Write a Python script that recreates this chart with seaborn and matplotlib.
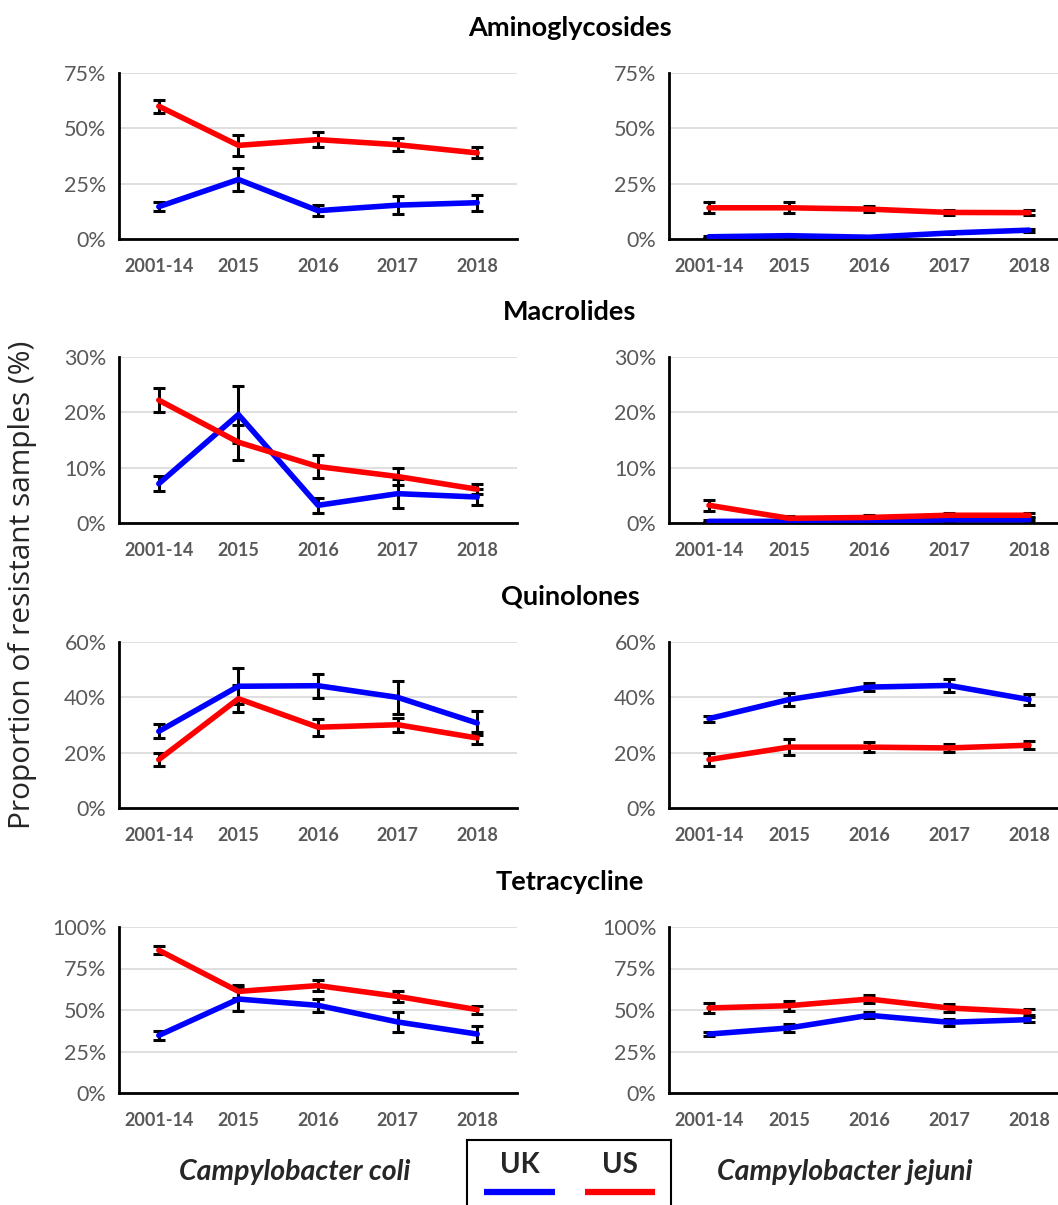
import numpy as np
import pandas as pd
import matplotlib
matplotlib.use("Agg")
import matplotlib.pyplot as plt
import seaborn as sns

sns.set_style("white")
plt.rcParams['font.family'] = ['Lato', 'DejaVu Sans']

years = ["2001-14", "2015", "2016", "2017", "2018"]

# Aminoglycosides
amino_coli_uk = [14.6, 26.9, 12.8, 15.3, 16.4]
amino_coli_uk_err = [2.1, 5.3, 2.5, 4.2, 3.6]
amino_coli_us = [60.0, 42.3, 44.9, 42.6, 38.9]
amino_coli_us_err = [3.0, 4.8, 3.4, 3.0, 2.5]
amino_jej_uk = [1.0, 1.5, 0.8, 2.7, 4.0]
amino_jej_uk_err = [0.4, 0.5, 0.3, 0.6, 0.7]
amino_jej_us = [14.1, 14.1, 13.5, 12.0, 11.9]
amino_jej_us_err = [2.4, 2.4, 1.5, 1.0, 1.2]

# Macrolides
macro_coli_uk = [7.1, 19.6, 3.2, 5.3, 4.7]
macro_coli_uk_err = [1.35, 5.2, 1.4, 2.6, 1.5]
macro_coli_us = [22.2, 14.6, 10.2, 8.4, 6.1]
macro_coli_us_err = [2.2, 3.2, 2.0, 1.5, 0.9]
macro_jej_uk = [0.3, 0.3, 0.3, 0.6, 0.6]
macro_jej_uk_err = [0.2, 0.2, 0.2, 0.3, 0.3]
macro_jej_us = [3.2, 0.85, 1.0, 1.4, 1.4]
macro_jej_us_err = [1.0, 0.4, 0.4, 0.4, 0.4]

# Quinolones
quin_coli_uk = [27.7, 44.0, 44.2, 40.0, 30.7]
quin_coli_uk_err = [2.5, 6.5, 4.4, 5.9, 4.3]
quin_coli_us = [17.5, 39.5, 29.2, 30.1, 25.3]
quin_coli_us_err = [2.4, 4.8, 3.0, 2.5, 2.3]
quin_jej_uk = [32.3, 39.2, 43.7, 44.3, 39.2]
quin_jej_uk_err = [1.1, 2.2, 1.5, 2.2, 2.0]
quin_jej_us = [17.5, 22.0, 22.0, 21.7, 22.7]
quin_jej_us_err = [2.2, 2.9, 1.8, 1.6, 1.5]

# Tetracycline
tetra_coli_uk = [34.7, 56.6, 52.8, 42.8, 35.5]
tetra_coli_uk_err = [2.8, 7.0, 4.0, 6.2, 5.0]
tetra_coli_us = [86.0, 61.2, 64.7, 58.2, 50.2]
tetra_coli_us_err = [2.5, 4.0, 3.3, 3.4, 2.4]
tetra_jej_uk = [35.5, 39.2, 46.8, 42.6, 44.2]
tetra_jej_uk_err = [1.0, 2.3, 1.7, 2.0, 1.7]
tetra_jej_us = [51.2, 52.6, 56.6, 51.2, 48.8]
tetra_jej_us_err = [3.2, 3.0, 2.2, 2.2, 1.7]

drug_titles = ["Aminoglycosides", "Macrolides", "Quinolones", "Tetracycline"]
y_max = [75, 30, 60, 100]
y_step = [25, 10, 20, 25]

panels = [
    [(amino_coli_uk, amino_coli_uk_err, amino_coli_us, amino_coli_us_err),
     (amino_jej_uk, amino_jej_uk_err, amino_jej_us, amino_jej_us_err)],
    [(macro_coli_uk, macro_coli_uk_err, macro_coli_us, macro_coli_us_err),
     (macro_jej_uk, macro_jej_uk_err, macro_jej_us, macro_jej_us_err)],
    [(quin_coli_uk, quin_coli_uk_err, quin_coli_us, quin_coli_us_err),
     (quin_jej_uk, quin_jej_uk_err, quin_jej_us, quin_jej_us_err)],
    [(tetra_coli_uk, tetra_coli_uk_err, tetra_coli_us, tetra_coli_us_err),
     (tetra_jej_uk, tetra_jej_uk_err, tetra_jej_us, tetra_jej_us_err)],
]

colors = {"UK": "#0000FF", "US": "#FF0000"}
tick_gray = "#595959"

W, H = 1058, 1205
fig = plt.figure(figsize=(W / 100, H / 100), dpi=100)

col_left = [119, 669]
col_width = [398, 400]
row_bottom = [239, 523, 808, 1093]
ax_h = 166
title_y = [28, 312, 597, 882]

for r in range(4):
    for c in range(2):
        uk, uk_err, us, us_err = panels[r][c]
        ax = fig.add_axes([col_left[c] / W, 1 - row_bottom[r] / H, col_width[c] / W, ax_h / H])
        df = pd.DataFrame({
            "year": years * 2,
            "value": uk + us,
            "country": ["UK"] * 5 + ["US"] * 5,
        })
        ax.errorbar(years, uk, yerr=uk_err, fmt="none", ecolor="black",
                    elinewidth=2.2, capsize=4, capthick=2.2, zorder=2)
        ax.errorbar(years, us, yerr=us_err, fmt="none", ecolor="black",
                    elinewidth=2.2, capsize=4, capthick=2.2, zorder=2)
        sns.lineplot(data=df, x="year", y="value", hue="country", palette=colors,
                     linewidth=4, ax=ax, legend=False, zorder=3, sort=False)
        ax.set_xlim(-0.5, 4.5)
        ax.set_ylim(0, y_max[r])
        ticks = np.arange(0, y_max[r] + 1, y_step[r])
        ax.set_yticks(ticks)
        ax.set_yticklabels([f"{t}%" for t in ticks])
        ax.yaxis.grid(True, color="#D9D9D9", linewidth=1.2)
        ax.set_axisbelow(True)
        for s in ["top", "right"]:
            ax.spines[s].set_visible(False)
        for s in ["left", "bottom"]:
            ax.spines[s].set_color("black")
            ax.spines[s].set_linewidth(2)
        ax.tick_params(axis="y", length=0, pad=9, labelsize=15.5, labelcolor=tick_gray)
        ax.tick_params(axis="x", length=0, pad=14, labelsize=13, labelcolor=tick_gray)
        for lab in ax.get_xticklabels():
            lab.set_fontweight("bold")
        ax.set_xlabel("")
        ax.set_ylabel("")
    fig.text(570 / W, 1 - title_y[r] / H, drug_titles[r], ha="center", va="center",
             fontsize=19.5, fontweight="bold", color="black")

fig.text(23 / W, 1 - 585 / H, "Proportion of resistant samples (%)", rotation=90,
         ha="center", va="center", fontsize=21.5, color="#262626",
         family=["Open Sans", "DejaVu Sans"])

fig.text(295 / W, 1 - 1172 / H, "Campylobacter coli", ha="center", va="center",
         fontsize=20.5, fontweight="bold", fontstyle="italic")
fig.text(845 / W, 1 - 1172 / H, "Campylobacter jejuni", ha="center", va="center",
         fontsize=20.5, fontweight="bold", fontstyle="italic")

# legend box
leg = fig.add_axes([467 / W, 1 - 1225 / H, 204 / W, 85 / H])
leg.set_xlim(0, 1)
leg.set_ylim(0, 1)
leg.set_xticks([])
leg.set_yticks([])
for s in leg.spines.values():
    s.set_linewidth(1.5)
    s.set_color("black")
leg.plot([0.083, 0.431], [0.388, 0.388], color=colors["UK"], linewidth=4.5, solid_capstyle="butt")
leg.plot([0.578, 0.922], [0.388, 0.388], color=colors["US"], linewidth=4.5, solid_capstyle="butt")
leg.text(0.26, 0.706, "UK", ha="center", va="center", fontsize=20, fontweight="bold")
leg.text(0.75, 0.706, "US", ha="center", va="center", fontsize=20, fontweight="bold")

fig.savefig("out.png", dpi=100)
